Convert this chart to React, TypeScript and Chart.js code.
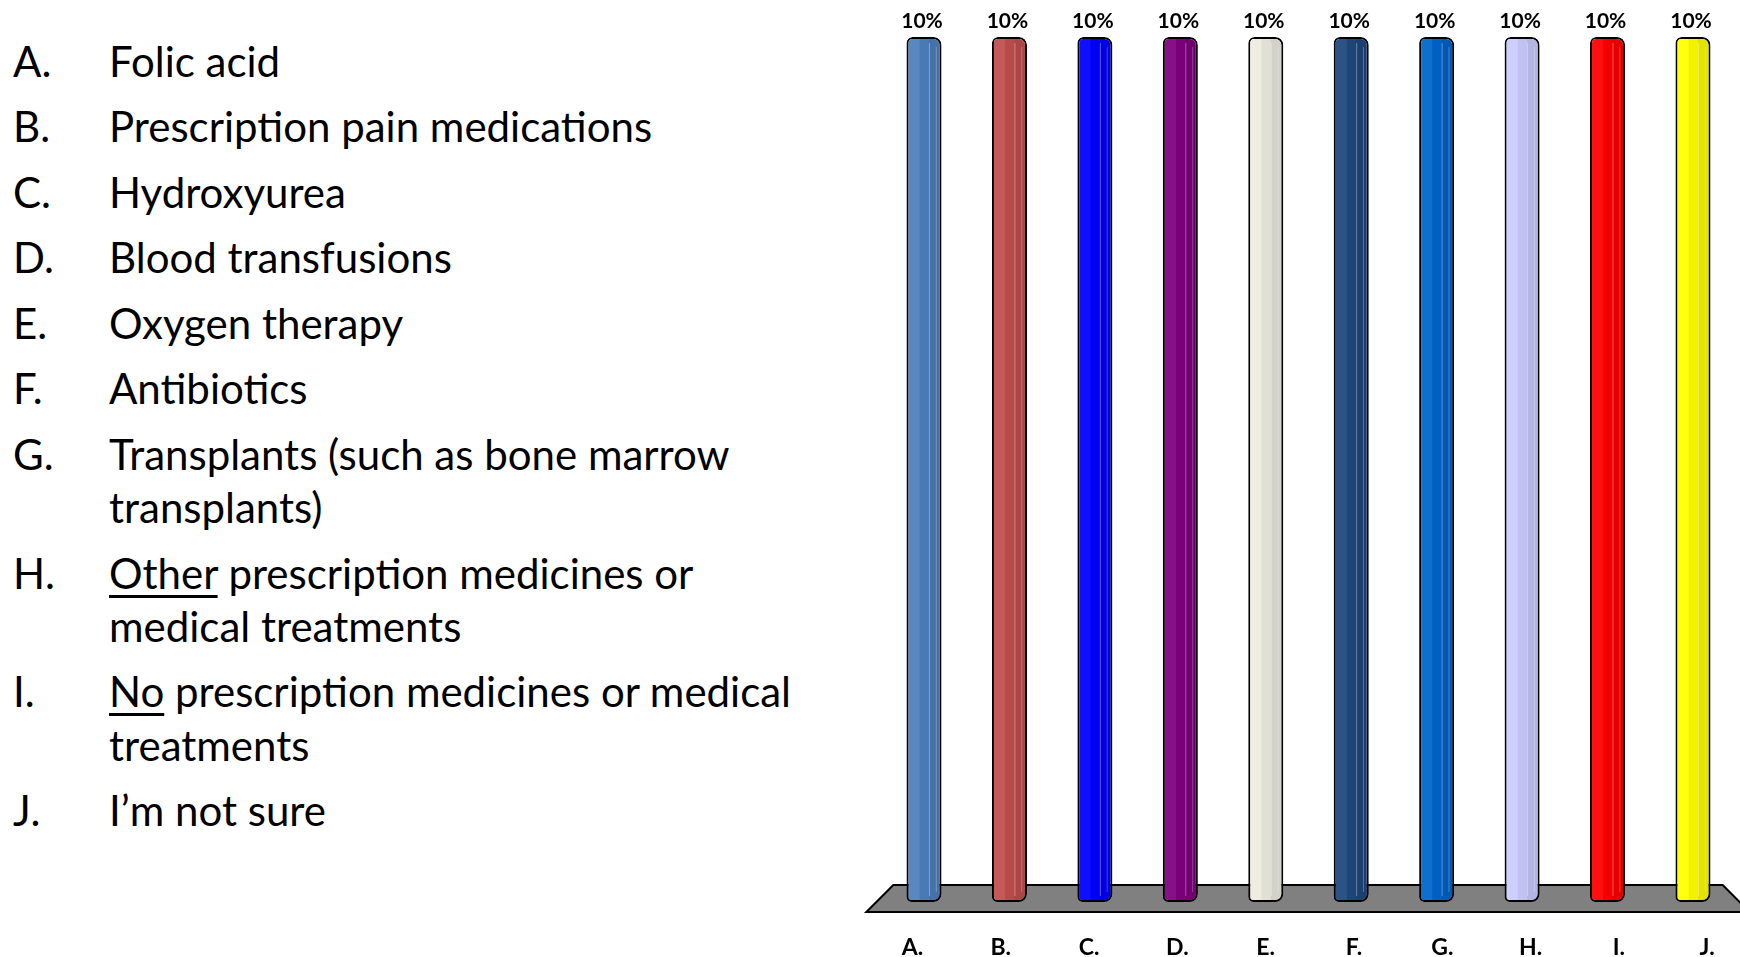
import React, { useEffect, useRef } from "react";
import { Chart, registerables } from "chart.js";

Chart.register(...registerables);

// ---- data ----
const categories = ["A.", "B.", "C.", "D.", "E.", "F.", "G.", "H.", "I.", "J."];
const percentages = [10, 10, 10, 10, 10, 10, 10, 10, 10, 10];
const barColors = [
  "#4F81BD",
  "#C0504D",
  "#0000FF",
  "#800080",
  "#EEECE1",
  "#1F497D",
  "#0066CC",
  "#CCCCFF",
  "#FF0000",
  "#FFFF00",
];
const answerLetters = ["A.", "B.", "C.", "D.", "E.", "F.", "G.", "H.", "I.", "J."];
const answerUnderlined = ["", "", "", "", "", "", "", "Other", "No", ""];
const answerLines = [
  ["Folic acid"],
  ["Prescription pain medications"],
  ["Hydroxyurea"],
  ["Blood transfusions"],
  ["Oxygen therapy"],
  ["Antibiotics"],
  ["Transplants (such as bone marrow", "transplants)"],
  [" prescription medicines or", "medical treatments"],
  [" prescription medicines or medical", "treatments"],
  ["I\u2019m not sure"],
];

const floorPlugin = {
  id: "floor3d",
  beforeDatasetsDraw(chart: any) {
    const { ctx, chartArea } = chart;
    const base = chart.scales.y.getPixelForValue(0);
    const top = base - 17;
    const bot = base + 10;
    ctx.save();
    ctx.beginPath();
    ctx.moveTo(chartArea.left + 12, top);
    ctx.lineTo(chartArea.right - 13, top);
    ctx.lineTo(chartArea.right + 14, bot);
    ctx.lineTo(chartArea.left - 15, bot);
    ctx.closePath();
    ctx.fillStyle = "#808080";
    ctx.fill();
    ctx.lineWidth = 2;
    ctx.strokeStyle = "#000";
    ctx.lineJoin = "miter";
    ctx.stroke();
    ctx.restore();
  },
};

const shadePlugin = {
  id: "barShade",
  afterDatasetsDraw(chart: any) {
    const { ctx } = chart;
    const meta = chart.getDatasetMeta(0);
    meta.data.forEach((el: any, i: number) => {
      const { x, y, base, width } = el.getProps(["x", "y", "base", "width"], true);
      const l = x - width / 2 + 2;
      const r = x + width / 2 - 2;
      const t = y + 2;
      const b = base - 2;
      ctx.save();
      ctx.beginPath();
      ctx.roundRect(l, t, r - l, b - t, [4, 6, 6, 3]);
      ctx.clip();
      const w = r - l;
      ctx.fillStyle = "rgba(255,255,255,0.06)";
      ctx.fillRect(l, t, w * 0.36, b - t);
      ctx.fillStyle = "rgba(0,0,0,0.05)";
      ctx.fillRect(l + w * 0.36, t, w, b - t);
      ctx.fillStyle = "rgba(0,0,0,0.06)";
      ctx.fillRect(l + w * 0.66, t, w, b - t);
      ctx.fillStyle = "rgba(255,255,255,0.35)";
      ctx.fillRect(l + w * 0.66, t + 4, 1, b - t - 8);
      ctx.fillStyle = "rgba(255,255,255,0.25)";
      ctx.fillRect(l + w * 0.88, t + 8, 1, b - t - 16);
      ctx.restore();
      ctx.save();
      ctx.font = "bold 21px Lato";
      ctx.fillStyle = "#000";
      ctx.textAlign = "center";
      ctx.textBaseline = "middle";
      ctx.fillText(percentages[i] + "%", x - 2, y - 16);
      ctx.restore();
    });
  },
};

function ChartCanvas() {
  const ref = useRef<HTMLCanvasElement | null>(null);
  useEffect(() => {
    if (!ref.current) return;
    const chart = new Chart(ref.current, {
      type: "bar",
      data: {
        labels: categories,
        datasets: [
          {
            data: percentages,
            backgroundColor: barColors,
            borderColor: "#000",
            borderWidth: 2,
            borderSkipped: false,
            borderRadius: { topLeft: 6, topRight: 8, bottomLeft: 5, bottomRight: 8 },
            barPercentage: 0.41,
            categoryPercentage: 1,
          },
        ],
      },
      options: {
        animation: false,
        responsive: false,
        events: [],
        layout: { padding: { left: 21.3, right: 4.3, top: 37, bottom: 0 } },
        plugins: { legend: { display: false }, tooltip: { enabled: false } },
        scales: {
          x: { type: "category", display: false, offset: true },
          x2: {
            type: "linear",
            position: "bottom",
            offset: false,
            min: -0.353,
            max: 9.323,
            grid: { display: false, drawTicks: false, offset: false },
            border: { display: false },
            afterBuildTicks: (axis: any) => {
              axis.ticks = categories.map((_, i) => ({ value: i }));
            },
            afterFit: (axis: any) => {
              axis.height = 55;
              axis.paddingLeft = 0;
              axis.paddingRight = 0;
            },
            ticks: {
              autoSkip: false,
              maxRotation: 0,
              minRotation: 0,
              padding: 0,
              color: "#000",
              font: { family: "Lato", weight: "bold", size: 23, lineHeight: "92px" },
              callback: (v: any) => categories[Math.round(v)] ?? "",
            },
          },
          y: { display: false, min: 0, max: 10 },
        },
      },
      plugins: [floorPlugin, shadePlugin],
    } as any);
    return () => chart.destroy();
  }, []);
  return (
    <canvas
      ref={ref}
      width={880}
      height={957}
      style={{ position: "absolute", left: 860, top: 0, width: 880, height: 957 }}
    />
  );
}

export default function App() {
  return (
    <div
      style={{
        position: "absolute",
        left: 0,
        top: 0,
        width: 1740,
        height: 957,
        overflow: "hidden",
        background: "#fff",
      }}
    >
      <div
        style={{
          position: "absolute",
          left: 0,
          top: 35,
          fontFamily: "Lato",
          fontSize: 42,
          lineHeight: "53.3px",
          color: "#000",
          whiteSpace: "nowrap",
        }}
      >
        {answerLetters.map((letter, i) => (
          <div key={letter} style={{ display: "flex", marginBottom: 12.2 }}>
            <span style={{ display: "inline-block", width: 96, paddingLeft: 13 }}>{letter}</span>
            <span>
              {answerLines[i].map((line, j) => (
                <React.Fragment key={j}>
                  {j === 0 && answerUnderlined[i] ? (
                    <span
                      style={{
                        textDecoration: "underline",
                        textDecorationThickness: 3,
                        textUnderlineOffset: 6,
                      }}
                    >
                      {answerUnderlined[i]}
                    </span>
                  ) : null}
                  {line}
                  {j < answerLines[i].length - 1 ? <br /> : null}
                </React.Fragment>
              ))}
            </span>
          </div>
        ))}
      </div>
      <ChartCanvas />
    </div>
  );
}
